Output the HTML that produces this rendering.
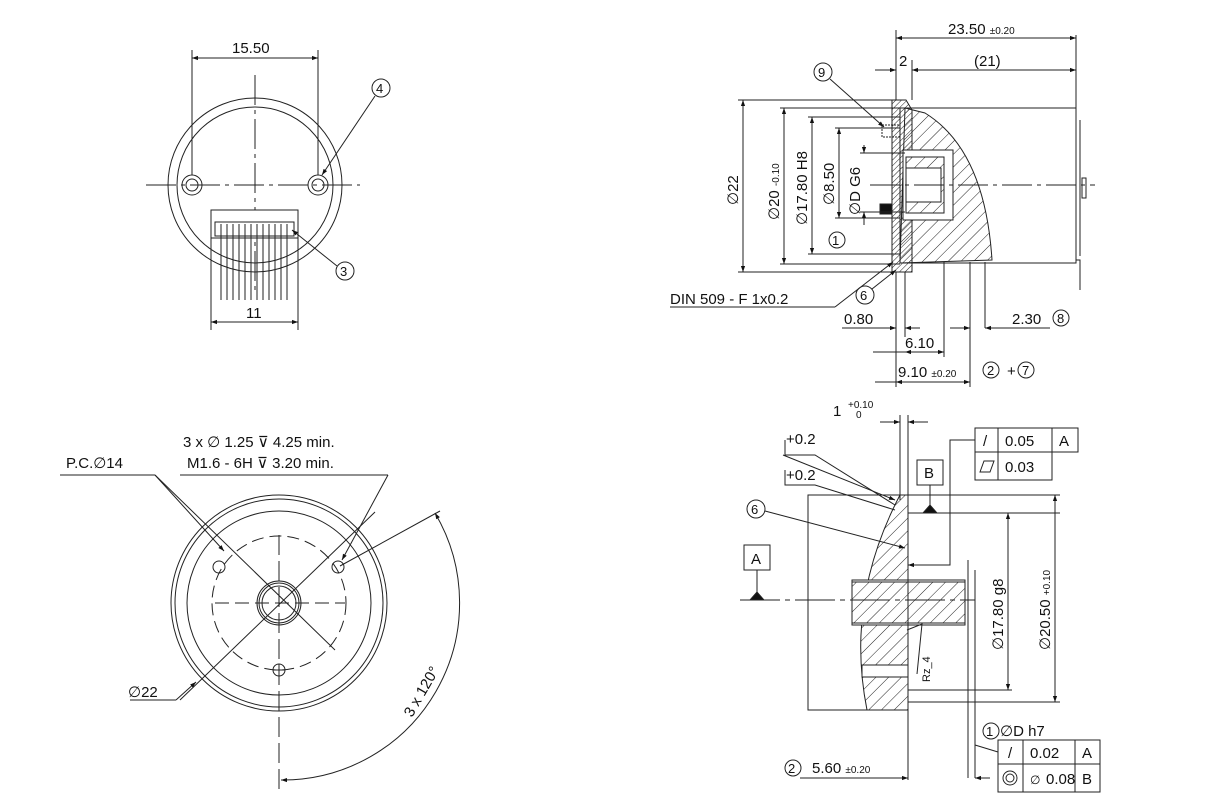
<!DOCTYPE html>
<html><head><meta charset="utf-8"><style>
html,body{margin:0;padding:0;background:#fff}
svg{display:block}
text{font-family:"Liberation Sans",sans-serif;fill:#111}
</style></head><body>
<svg width="1220" height="808" viewBox="0 0 1220 808" xmlns="http://www.w3.org/2000/svg">
<defs>
<marker id="a" viewBox="0 0 10 10" refX="10" refY="5" markerWidth="8" markerHeight="6" orient="auto-start-reverse"><path d="M0,1.5L10,5L0,8.5z" fill="#111"/></marker>
<pattern id="h" width="9" height="9" patternUnits="userSpaceOnUse" patternTransform="rotate(45)"><line x1="0" y1="0" x2="0" y2="9" stroke="#222" stroke-width="1"/></pattern>
<pattern id="h2" width="4" height="4" patternUnits="userSpaceOnUse" patternTransform="rotate(45)"><line x1="0" y1="0" x2="0" y2="4" stroke="#222" stroke-width="1"/></pattern>
</defs>
<g fill="none" stroke="#222" stroke-width="1">
<!-- TOP LEFT VIEW -->
<circle cx="255" cy="185" r="87"/>
<circle cx="255" cy="185" r="78"/>
<line x1="146" y1="185" x2="360" y2="185" stroke-dasharray="30,5,4,5"/>
<line x1="255" y1="75" x2="255" y2="290" stroke-dasharray="30,5,4,5"/>
<circle cx="192" cy="185" r="10"/><circle cx="192" cy="185" r="6"/>
<circle cx="318" cy="185" r="10"/><circle cx="318" cy="185" r="6"/>
<line x1="192" y1="50" x2="192" y2="175"/><line x1="318" y1="50" x2="318" y2="175"/>
<line x1="192" y1="58" x2="318" y2="58" marker-start="url(#a)" marker-end="url(#a)"/>
<rect x="211" y="210" width="87" height="28" fill="#fff"/>
<rect x="215" y="222" width="79" height="14"/>
<path d="M221,224v76M227,224v76M233,224v76M239,224v76M245,224v76M251,224v76M257,224v76M263,224v76M269,224v76M275,224v76M281,224v76M287,224v76"/>
<line x1="211" y1="238" x2="211" y2="330"/><line x1="298" y1="238" x2="298" y2="330"/>
<line x1="211" y1="322" x2="298" y2="322" marker-start="url(#a)" marker-end="url(#a)"/>
<circle cx="381" cy="88" r="9"/><line x1="375" y1="96" x2="322" y2="175" marker-end="url(#a)"/>
<circle cx="345" cy="271" r="9"/><line x1="337" y1="266" x2="292" y2="230" marker-end="url(#a)"/>

<!-- BOTTOM LEFT VIEW -->
<circle cx="279" cy="603" r="108"/>
<circle cx="279" cy="603" r="104"/>
<circle cx="279" cy="603" r="92"/>
<circle cx="279" cy="603" r="67" stroke-dasharray="12,6"/>
<circle cx="279" cy="603" r="22"/><circle cx="279" cy="603" r="20"/><circle cx="279" cy="603" r="17"/>
<line x1="215" y1="603" x2="345" y2="603" stroke-dasharray="14,6"/>
<line x1="279" y1="535" x2="279" y2="790" stroke-dasharray="20,6"/>
<circle cx="219" cy="567" r="6"/><circle cx="338" cy="567" r="6"/><circle cx="279" cy="670" r="6"/>
<line x1="273" y1="670" x2="285" y2="670"/><line x1="279" y1="664" x2="279" y2="676"/>
<line x1="155" y1="475" x2="335" y2="650"/>
<line x1="180" y1="700" x2="375" y2="512"/>
<line x1="130" y1="700" x2="176" y2="700"/><line x1="176" y1="700" x2="196" y2="682" marker-end="url(#a)"/>
<line x1="60" y1="475" x2="155" y2="475"/>
<line x1="155" y1="475" x2="224" y2="551" marker-end="url(#a)"/>
<line x1="180" y1="475" x2="388" y2="475"/>
<line x1="388" y1="475" x2="342" y2="560" marker-end="url(#a)"/>
<line x1="340" y1="566" x2="440" y2="511"/>
<path d="M435,513 A177,177 0 0 1 281,780" marker-start="url(#a)" marker-end="url(#a)"/>

<!-- TOP RIGHT VIEW -->
<rect x="900" y="108" width="176" height="155"/>
<line x1="1076" y1="35" x2="1076" y2="110"/>
<path d="M1076,110v150h4v30M1080,120v136"/>
<rect x="1082" y="178" width="4" height="20"/>
<path d="M905,108 L925,113 Q985,150 992,260 L900,263z" fill="url(#h)"/>
<path d="M892,100h14l6,10v162h-20z" fill="url(#h2)"/>
<rect x="903" y="150" width="50" height="70" fill="#fff"/>
<rect x="906" y="157" width="38" height="56" fill="url(#h)"/>
<rect x="906" y="168" width="35" height="34" fill="#fff"/>
<rect x="880" y="204" width="12" height="10" fill="#111"/>
<path d="M882,125h18v12h-18z" stroke-dasharray="2,1"/>
<line x1="870" y1="185" x2="1095" y2="185" stroke-dasharray="30,5,4,5"/>
<line x1="738" y1="100" x2="900" y2="100"/><line x1="738" y1="272" x2="900" y2="272"/>
<line x1="743" y1="100" x2="743" y2="272" marker-start="url(#a)" marker-end="url(#a)"/>
<line x1="780" y1="108" x2="900" y2="108"/><line x1="780" y1="264" x2="900" y2="264"/>
<line x1="784" y1="108" x2="784" y2="264" marker-start="url(#a)" marker-end="url(#a)"/>
<line x1="808" y1="117" x2="900" y2="117"/><line x1="808" y1="254" x2="900" y2="254"/>
<line x1="812" y1="117" x2="812" y2="254" marker-start="url(#a)" marker-end="url(#a)"/>
<line x1="835" y1="128" x2="900" y2="128"/><line x1="835" y1="218" x2="900" y2="218"/>
<line x1="839" y1="128" x2="839" y2="218" marker-start="url(#a)" marker-end="url(#a)"/>
<line x1="860" y1="153" x2="905" y2="153"/><line x1="860" y1="212" x2="905" y2="212"/>
<line x1="864" y1="145" x2="864" y2="153" marker-end="url(#a)"/><line x1="864" y1="225" x2="864" y2="212" marker-end="url(#a)"/>
<circle cx="837" cy="240" r="8"/>
<line x1="896" y1="30" x2="896" y2="100"/><line x1="912" y1="60" x2="912" y2="100"/>
<line x1="896" y1="38" x2="1076" y2="38" marker-start="url(#a)" marker-end="url(#a)"/>
<line x1="875" y1="70" x2="896" y2="70" marker-end="url(#a)"/>
<line x1="912" y1="70" x2="1076" y2="70" marker-start="url(#a)" marker-end="url(#a)"/>
<circle cx="823" cy="72" r="9"/><line x1="830" y1="79" x2="884" y2="127" marker-end="url(#a)"/>
<line x1="670" y1="307" x2="835" y2="307"/><line x1="835" y1="307" x2="893" y2="262" marker-end="url(#a)"/>
<circle cx="865" cy="295" r="9"/><line x1="872" y1="289" x2="896" y2="270" marker-end="url(#a)"/>
<path d="M896,272v115M905,272v65M944,262v95M970,262v75M985,262v66"/>
<line x1="842" y1="328" x2="896" y2="328"/>
<line x1="880" y1="328" x2="896" y2="328" marker-end="url(#a)"/>
<line x1="920" y1="328" x2="905" y2="328" marker-end="url(#a)"/>
<line x1="1050" y1="328" x2="985" y2="328"/>
<line x1="950" y1="328" x2="970" y2="328" marker-end="url(#a)"/>
<line x1="1005" y1="328" x2="985" y2="328" marker-end="url(#a)"/>
<line x1="905" y1="352" x2="944" y2="352" marker-start="url(#a)" marker-end="url(#a)"/>
<line x1="873" y1="352" x2="905" y2="352"/>
<line x1="896" y1="382" x2="970" y2="382" marker-start="url(#a)" marker-end="url(#a)"/>
<line x1="875" y1="382" x2="896" y2="382"/>
<line x1="970" y1="337" x2="970" y2="387"/>
<circle cx="991" cy="370" r="8"/><circle cx="1026" cy="370" r="8"/>
<circle cx="1061" cy="318" r="8"/>

<!-- BOTTOM RIGHT SECTION -->
<rect x="808" y="495" width="100" height="215"/>
<path d="M900,495 Q845,600 867,710 L908,710 V495z" fill="url(#h)"/>
<rect x="852" y="580" width="113" height="45" fill="#fff"/>
<rect x="852" y="582" width="113" height="41" fill="url(#h)"/>
<path d="M862,665h46v12h-46z" fill="#fff"/>
<line x1="740" y1="600" x2="975" y2="600" stroke-dasharray="40,5,5,5"/>
<line x1="900" y1="415" x2="900" y2="500"/><line x1="908" y1="415" x2="908" y2="780"/>
<line x1="880" y1="422" x2="900" y2="422" marker-end="url(#a)"/>
<line x1="928" y1="422" x2="908" y2="422" marker-end="url(#a)"/>
<path d="M785,440v15h30l80,50" /><path d="M785,470v15h30l80,25"/>
<line x1="783" y1="455" x2="895" y2="500" marker-end="url(#a)"/>
<circle cx="756" cy="509" r="9"/><line x1="765" y1="511" x2="905" y2="548" marker-end="url(#a)"/>
<rect x="744" y="545" width="26" height="25"/><line x1="757" y1="570" x2="757" y2="600"/>
<path d="M750,600l7,-8l7,8z" fill="#111"/>
<rect x="917" y="460" width="26" height="25"/><line x1="930" y1="485" x2="930" y2="513"/>
<path d="M923,513l7,-8l7,8z" fill="#111"/>
<line x1="908" y1="513" x2="1060" y2="513"/>
<line x1="908" y1="495" x2="1060" y2="495"/>
<rect x="975" y="428" width="103" height="24"/><line x1="998" y1="428" x2="998" y2="480"/><line x1="1052" y1="428" x2="1052" y2="452"/>
<rect x="975" y="452" width="77" height="28"/>
<path d="M980,472l4,-11h10l-4,11z"/>
<path d="M975,440h-25v125h-42" marker-end="url(#a)"/>
<line x1="1008" y1="513" x2="1008" y2="690" marker-start="url(#a)" marker-end="url(#a)"/>
<line x1="1055" y1="495" x2="1055" y2="702" marker-start="url(#a)" marker-end="url(#a)"/>
<line x1="908" y1="690" x2="1012" y2="690"/><line x1="908" y1="702" x2="1060" y2="702"/>
<line x1="968" y1="560" x2="968" y2="778"/><line x1="975" y1="570" x2="975" y2="778"/>
<path d="M907,630l15,-6l-5,50"/>
<circle cx="991" cy="731" r="8"/><line x1="999" y1="740" x2="1075" y2="740"/>
<rect x="998" y="740" width="102" height="24"/><line x1="1023" y1="740" x2="1023" y2="792"/><line x1="1075" y1="740" x2="1075" y2="792"/>
<rect x="998" y="764" width="102" height="28"/>
<circle cx="1010" cy="778" r="7"/><circle cx="1010" cy="778" r="4"/>
<line x1="975" y1="745" x2="998" y2="752"/>
<line x1="800" y1="778" x2="908" y2="778"/>
<line x1="888" y1="778" x2="908" y2="778" marker-end="url(#a)"/>
<line x1="990" y1="778" x2="975" y2="778" marker-end="url(#a)"/>
<circle cx="793" cy="768" r="8"/>
</g>
<g font-size="15">
<text x="232" y="53">15.50</text>
<text x="246" y="318">11</text>
<text x="376" y="93" font-size="13">4</text>
<text x="340" y="276" font-size="13">3</text>
<text x="183" y="447">3 x ∅ 1.25 ⊽ 4.25 min.</text>
<text x="187" y="468">M1.6 - 6H ⊽ 3.20 min.</text>
<text x="66" y="468">P.C.∅14</text>
<text x="128" y="697">∅22</text>
<text transform="translate(412,718) rotate(-60)">3 x 120°</text>
<text x="948" y="34">23.50 <tspan font-size="10">±0.20</tspan></text>
<text x="899" y="66">2</text>
<text x="974" y="66">(21)</text>
<text x="818" y="77" font-size="13">9</text>
<text x="832" y="245" font-size="13">1</text>
<text transform="translate(738,205) rotate(-90)">∅22</text>
<text transform="translate(779,220) rotate(-90)">∅20 <tspan font-size="10">-0.10</tspan></text>
<text transform="translate(807,225) rotate(-90)">∅17.80 H8</text>
<text transform="translate(834,205) rotate(-90)">∅8.50</text>
<text transform="translate(860,215) rotate(-90)">∅D G6</text>
<text x="670" y="304">DIN 509 - F 1x0.2</text>
<text x="860" y="300" font-size="13">6</text>
<text x="844" y="324">0.80</text>
<text x="1012" y="324">2.30</text>
<text x="1057" y="323" font-size="13">8</text>
<text x="905" y="348">6.10</text>
<text x="898" y="377">9.10 <tspan font-size="10">±0.20</tspan></text>
<text x="987" y="375" font-size="13">2</text><text x="1007" y="376">+</text><text x="1022" y="375" font-size="13">7</text>
<text x="833" y="416">1</text><text x="848" y="408" font-size="10">+0.10</text><text x="856" y="418" font-size="10">0</text>
<text x="786" y="444">+0.2</text>
<text x="786" y="480">+0.2</text>
<text x="751" y="514" font-size="13">6</text>
<text x="751" y="564">A</text>
<text x="924" y="478">B</text>
<text x="1005" y="446">0.05</text><text x="1059" y="446">A</text>
<text x="1005" y="472">0.03</text>
<text x="983" y="446">/</text>
<text transform="translate(1003,650) rotate(-90)">∅17.80 g8</text>
<text transform="translate(1050,650) rotate(-90)">∅20.50 <tspan font-size="10">+0.10</tspan></text>
<text transform="translate(930,682) rotate(-90)" font-size="11">Rz_4</text>
<text x="986" y="736" font-size="13">1</text>
<text x="1000" y="736">∅D h7</text>
<text x="1030" y="758">0.02</text><text x="1082" y="758">A</text><text x="1008" y="758">/</text>
<text x="1030" y="784" font-size="12">∅</text><text x="1046" y="784">0.08</text><text x="1082" y="784">B</text>
<text x="788" y="773" font-size="13">2</text>
<text x="812" y="773">5.60 <tspan font-size="10">±0.20</tspan></text>
</g>
</svg>
</body></html>
